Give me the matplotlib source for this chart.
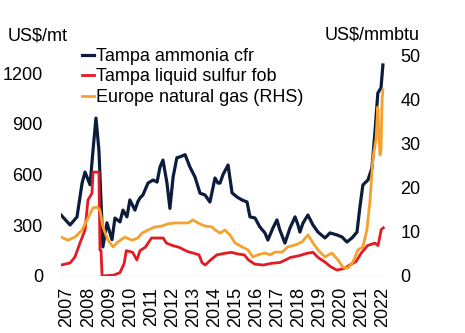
import matplotlib
matplotlib.use("Agg")
import matplotlib.pyplot as plt
import numpy as np

# ---------------------------------------------------------------------------
# Data (fractional years)
# ---------------------------------------------------------------------------
ammonia_t = [2007.0, 2007.43, 2007.76, 2008.0, 2008.14, 2008.38, 2008.52, 2008.66,
             2008.8, 2008.99, 2009.18, 2009.42, 2009.56, 2009.8, 2009.94, 2010.13,
             2010.27, 2010.51, 2010.65, 2010.75, 2010.89, 2011.13, 2011.37, 2011.56,
             2011.7, 2011.84, 2012.03, 2012.17, 2012.32, 2012.5, 2012.65, 2012.89,
             2013.12, 2013.36, 2013.6, 2013.83, 2014.07, 2014.31, 2014.45, 2014.55,
             2014.69, 2014.93, 2015.12, 2015.35, 2015.59, 2015.83, 2015.97, 2016.21,
             2016.44, 2016.68, 2016.82, 2017.06, 2017.25, 2017.39, 2017.63, 2017.87,
             2018.11, 2018.25, 2018.34, 2018.49, 2018.72, 2018.96, 2019.2, 2019.53,
             2019.77, 2020.1, 2020.34, 2020.57, 2020.81, 2021.05, 2021.19, 2021.33,
             2021.57, 2021.76, 2021.9, 2022.04, 2022.19, 2022.28]
ammonia = [361, 302, 350, 550, 615, 540, 745, 935,
           745, 172, 315, 215, 343, 320, 390, 350,
           450, 390, 440, 462, 480, 550, 568, 556,
           645, 686, 550, 400, 585, 700, 705, 718,
           645, 586, 490, 480, 438, 580, 550, 550,
           600, 657, 492, 468, 450, 438, 350, 343,
           290, 255, 213, 284, 332, 272, 195, 284,
           350, 302, 260, 314, 361, 302, 260, 225,
           255, 243, 231, 201, 225, 260, 409, 539,
           568, 640, 847, 1083, 1113, 1249]

sulfur_t = [2007.0, 2007.43, 2007.66, 2007.9, 2008.14, 2008.28, 2008.47, 2008.52,
            2008.8, 2008.85, 2008.9, 2008.95, 2009.5, 2009.8, 2010.0, 2010.1,
            2010.4, 2010.6, 2010.75, 2011.0, 2011.3, 2011.85, 2012.0, 2012.3,
            2012.6, 2013.0, 2013.3, 2013.55, 2013.7, 2013.85, 2014.1, 2014.4,
            2014.8, 2015.1, 2015.4, 2015.7, 2015.9, 2016.2, 2016.6, 2017.0,
            2017.4, 2017.9, 2018.3, 2018.7, 2018.96, 2019.2, 2019.5, 2019.8,
            2020.1, 2020.45, 2020.7, 2021.0, 2021.25, 2021.55, 2021.9, 2022.05,
            2022.2, 2022.3]
sulfur = [65, 77, 112, 195, 272, 450, 490, 615,
          615, 155, 150, 0, 5, 20, 75, 150,
          140, 95, 150, 170, 225, 225, 195, 180,
          170, 145, 135, 125, 78, 65, 95, 125,
          135, 140, 130, 125, 95, 70, 65, 75,
          80, 110, 120, 135, 140, 110, 85, 55,
          35, 45, 65, 85, 135, 180, 195, 180,
          275, 285]

gas_t = [2007.0, 2007.33, 2007.66, 2008.0, 2008.28, 2008.52, 2008.71, 2008.85,
         2008.99, 2009.23, 2009.47, 2009.7, 2010.04, 2010.37, 2010.65, 2010.84,
         2011.13, 2011.46, 2011.79, 2012.08, 2012.41, 2012.74, 2013.03, 2013.26,
         2013.5, 2013.83, 2014.17, 2014.3, 2014.55, 2014.78, 2015.02, 2015.26,
         2015.59, 2015.88, 2016.11, 2016.35, 2016.68, 2016.92, 2017.16, 2017.49,
         2017.77, 2018.11, 2018.44, 2018.72, 2018.96, 2019.2, 2019.53, 2019.86,
         2020.15, 2020.38, 2020.62, 2020.86, 2021.1, 2021.33, 2021.52, 2021.67,
         2021.81, 2021.95, 2022.04, 2022.09, 2022.14, 2022.19, 2022.24, 2022.28]
gas = [8.8, 8.1, 8.8, 10.4, 13.1, 15.4, 15.6, 14.9,
       11.1, 8.1, 6.6, 7.7, 8.8, 8.1, 8.6, 9.7,
       10.4, 11.1, 11.3, 11.8, 12.0, 12.0, 12.0, 12.7,
       12.0, 11.3, 11.1, 10.5, 9.7, 10.4, 9.3, 7.5,
       6.6, 5.9, 4.3, 4.8, 5.2, 4.8, 5.4, 5.4,
       6.6, 7.0, 7.7, 9.3, 7.5, 5.9, 4.3, 5.2,
       3.6, 2.0, 1.8, 3.2, 5.9, 6.6, 10.4, 17.2,
       26.9, 30.8, 38.2, 32.4, 27.4, 28.5, 39.8, 42.1]

years = list(range(2007, 2023))
left_ticks = [0, 300, 600, 900, 1200]
right_ticks = [0, 10, 20, 30, 40, 50]

NAVY = "#0b1c3d"
RED = "#e31b23"
ORANGE = "#f6a02d"

plt.rcParams["font.family"] = ["Liberation Sans", "DejaVu Sans"]
plt.rcParams["font.size"] = 13

fig = plt.figure(figsize=(4.65, 3.33), dpi=100)
ax = fig.add_axes([61 / 465, 1 - 276 / 333, 324 / 465, 221 / 333])
ax2 = ax.twinx()

l1, = ax.plot(ammonia_t, ammonia, color=NAVY, lw=2.3, label="Tampa ammonia cfr")
l2, = ax.plot(sulfur_t, sulfur, color=RED, lw=2.0, label="Tampa liquid sulfur fob")
l3, = ax2.plot(gas_t, gas, color=ORANGE, lw=2.0, label="Europe natural gas (RHS)")

ax.set_xlim(2007.0, 2022.38)
ax.set_ylim(0, 1308)
ax2.set_ylim(0, 50)
ax.set_yticks(left_ticks)
ax2.set_yticks(right_ticks)
ax.set_xticks([y + 0.29 for y in years])
ax.set_xticklabels([str(y) for y in years], rotation=90)

for a in (ax, ax2):
    for s in a.spines.values():
        s.set_visible(False)
    a.tick_params(length=0)
ax.tick_params(axis="y", pad=13)
ax2.tick_params(axis="y", pad=11)
ax.tick_params(axis="x", pad=8)
ax.axhline(0, color="#c8c8c8", lw=1.0, zorder=0)

fig.text(8 / 465, 1 - 36 / 333, "US$/mt", ha="left", va="center")
fig.text(420 / 465, 1 - 35 / 333, "US$/mmbtu", ha="right", va="center")

ax2.legend(handles=[l1, l2, l3], loc="upper left", bbox_to_anchor=(0.042, 1.065),
           frameon=False, handlelength=0.7, handletextpad=0.1,
           labelspacing=0.2, borderaxespad=0)

fig.savefig("out.png", dpi=100)
